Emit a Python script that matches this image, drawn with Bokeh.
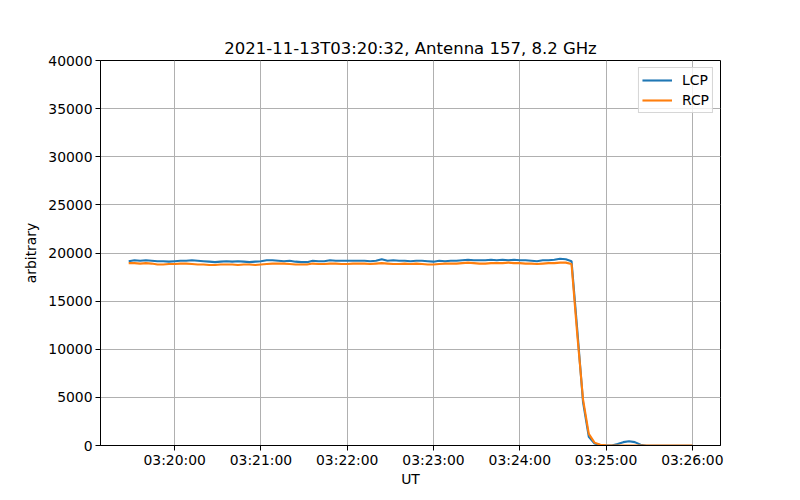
import pandas as pd
from bokeh.plotting import figure
from bokeh.models import (Range1d, FixedTicker, DatetimeTickFormatter,
                          BasicTickFormatter, Legend, LegendItem)
from bokeh.embed import file_html
from bokeh.resources import INLINE

title_text = "2021-11-13T03:20:32, Antenna 157, 8.2 GHz"
start_time = "2021-11-13 03:19:28"
sample_step = "4s"

lcp = [19150, 19250, 19200, 19250, 19200, 19150, 19150, 19100, 19150, 19200,
       19200, 19250, 19200, 19150, 19100, 19050, 19100, 19150, 19100, 19150,
       19100, 19050, 19100, 19150, 19250, 19250, 19200, 19150, 19200, 19100,
       19050, 19050, 19200, 19150, 19150, 19250, 19200, 19200, 19200, 19200,
       19200, 19200, 19150, 19200, 19350, 19200, 19250, 19200, 19200, 19150,
       19200, 19200, 19150, 19100, 19200, 19150, 19200, 19200, 19250, 19300,
       19250, 19250, 19250, 19300, 19250, 19300, 19250, 19300, 19250, 19250,
       19200, 19150, 19250, 19250, 19300, 19400, 19350, 19150, 12000, 4500,
       900, 200, 50, 0, 0, 150, 350, 450, 350, 80,
       -30, -30, -30, -30, -30, -30, -30, -30, -30]

rcp = [18950, 18950, 18900, 18950, 18900, 18800, 18800, 18850, 18850, 18900,
       18900, 18850, 18800, 18800, 18750, 18750, 18800, 18800, 18800, 18750,
       18800, 18800, 18750, 18800, 18850, 18900, 18900, 18900, 18850, 18800,
       18800, 18800, 18900, 18850, 18850, 18900, 18900, 18850, 18850, 18900,
       18900, 18900, 18850, 18900, 18950, 18900, 18850, 18850, 18900, 18850,
       18900, 18850, 18800, 18800, 18850, 18900, 18900, 18900, 18950, 19000,
       18950, 18900, 18900, 18950, 18950, 18950, 19000, 18950, 18950, 18900,
       18900, 18850, 18900, 18950, 18950, 19000, 19000, 18850, 11500, 4800,
       1200, 300, 80, 20, 0, 0, 0, 0, 0, 0,
       0, 0, 0, 0, 0, 0, 0, 0, 0]

x_ticks = ["2021-11-13 03:20:00", "2021-11-13 03:21:00", "2021-11-13 03:22:00",
           "2021-11-13 03:23:00", "2021-11-13 03:24:00", "2021-11-13 03:25:00",
           "2021-11-13 03:26:00"]
y_ticks = [0, 5000, 10000, 15000, 20000, 25000, 30000, 35000, 40000]

times = pd.date_range(start_time, periods=len(lcp), freq=sample_step)

x0 = pd.Timestamp("2021-11-13 03:19:08.4")
x1 = pd.Timestamp("2021-11-13 03:26:19.6")

FONT = "DejaVu Sans"

p = figure(width=800, height=500, output_backend="svg", toolbar_location=None,
           x_axis_type="datetime",
           x_range=Range1d(x0, x1), y_range=Range1d(0, 40000),
           min_border_left=100, min_border_right=80,
           min_border_top=60, min_border_bottom=55)

p.title.text = title_text
p.title.align = "center"
p.title.text_font = FONT
p.title.text_font_size = "16.5px"
p.title.text_font_style = "normal"
p.title.text_color = "black"
p.title.standoff = 6

r1 = p.line(times, lcp, line_color="#1f77b4", line_width=2.1)
r2 = p.line(times, rcp, line_color="#ff7f0e", line_width=2.1)

tick_ms = [pd.Timestamp(t).value / 1e6 for t in x_ticks]
p.xaxis.ticker = FixedTicker(ticks=tick_ms)
fmt = "%H:%M:%S"
p.xaxis.formatter = DatetimeTickFormatter(seconds=fmt, minsec=fmt, minutes=fmt,
                                          hourmin=fmt, hours=fmt)
p.yaxis.ticker = FixedTicker(ticks=y_ticks)
p.yaxis.formatter = BasicTickFormatter(use_scientific=False)

for ax in (p.xaxis[0], p.yaxis[0]):
    ax.major_label_text_font = FONT
    ax.major_label_text_font_size = "13.9px"
    ax.major_label_text_color = "black"
    ax.axis_label_text_font = FONT
    ax.axis_label_text_font_size = "13.9px"
    ax.axis_label_text_font_style = "normal"
    ax.axis_label_text_color = "black"
    ax.axis_line_color = "black"
    ax.axis_line_width = 1
    ax.major_tick_line_color = "black"
    ax.major_tick_out = 5
    ax.major_tick_in = 0
    ax.minor_tick_out = 0
    ax.minor_tick_in = 0

p.xaxis.major_label_standoff = 1
p.yaxis.major_label_standoff = 3
p.xaxis.axis_label = "UT"
p.yaxis.axis_label = "arbitrary"
p.xaxis.axis_label_standoff = 0
p.yaxis.axis_label_standoff = 6

p.grid.grid_line_color = "#b0b0b0"
p.grid.grid_line_width = 1
p.outline_line_color = "black"
p.outline_line_width = 1
p.background_fill_color = "white"
p.border_fill_color = "white"

legend = Legend(items=[LegendItem(label="LCP", renderers=[r1]),
                       LegendItem(label="RCP", renderers=[r2])],
                location="top_right")
legend.label_text_font = FONT
legend.label_text_font_size = "13.9px"
legend.label_text_color = "black"
legend.border_line_color = "#cccccc"
legend.border_line_alpha = 0.8
legend.background_fill_alpha = 0.8
legend.margin = 7
legend.padding = 3
legend.spacing = 2
legend.glyph_width = 30
legend.label_standoff = 10
legend.label_height = 18
legend.glyph_height = 18
p.add_layout(legend)

open("out.html", "w").write(file_html(p, INLINE))
